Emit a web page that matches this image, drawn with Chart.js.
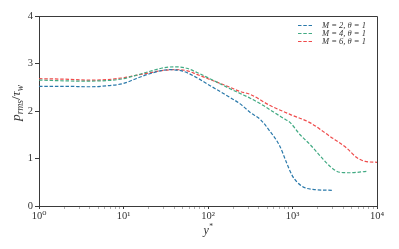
<!DOCTYPE html>
<html>
<head>
<meta charset="utf-8">
<script src="https://cdn.jsdelivr.net/npm/chart.js@4.4.0/dist/chart.umd.min.js"></script>
<style>
html,body{margin:0;padding:0;background:#fff;}
canvas{display:block;}
</style>
</head>
<body>
<canvas id="c" width="399" height="249"></canvas>
<script>
// ---- data ----
const seriesLabels = ["M = 2, \u03b8 = 1", "M = 4, \u03b8 = 1", "M = 6, \u03b8 = 1"];
const seriesColors = ["#2a79aa", "#42aa83", "#ef4a4a"];

const m2X = [1, 2, 4, 6.3, 10, 14, 20, 28, 35, 50, 74, 100, 158, 240, 316, 417, 537, 708, 851, 1000, 1288, 1738, 3020];
const m2Y = [2.52, 2.52, 2.51, 2.53, 2.58, 2.68, 2.78, 2.85, 2.87, 2.84, 2.70, 2.56, 2.35, 2.15, 1.97, 1.82, 1.58, 1.26, 0.91, 0.63, 0.42, 0.35, 0.33];

const m4X = [1, 3, 6.3, 10, 14, 20, 28, 40, 56, 74, 100, 182, 240, 316, 447, 537, 776, 933, 1230, 1622, 2138, 2884, 3631, 4786, 7586];
const m4Y = [2.65, 2.63, 2.64, 2.68, 2.75, 2.83, 2.90, 2.93, 2.90, 2.81, 2.70, 2.47, 2.37, 2.27, 2.12, 2.03, 1.85, 1.76, 1.50, 1.29, 1.05, 0.81, 0.71, 0.70, 0.73];

const m6X = [1, 2, 4, 6.3, 10, 14, 20, 28, 40, 56, 74, 100, 182, 240, 316, 537, 933, 1622, 2754, 4365, 5754, 7244, 10000];
const m6Y = [2.68, 2.67, 2.65, 2.66, 2.70, 2.75, 2.80, 2.85, 2.87, 2.85, 2.77, 2.68, 2.50, 2.41, 2.35, 2.12, 1.93, 1.75, 1.47, 1.22, 1.02, 0.94, 0.92];

const yTicks = [0, 1, 2, 3, 4];
const xDecades = [1, 10, 100, 1000, 10000];
const xTickLabels = ["10\u2070", "10\u00b9", "10\u00b2", "10\u00b3", "10\u2074"];

const seriesX = [m2X, m4X, m6X];
const seriesY = [m2Y, m4Y, m6Y];

const SERIF = '"Liberation Serif", "DejaVu Serif", serif';
const TXT = '#333333';

const datasets = seriesLabels.map((lab, i) => ({
  label: lab,
  data: seriesX[i].map((x, k) => ({x: x, y: seriesY[i][k]})),
  borderColor: seriesColors[i],
  backgroundColor: seriesColors[i],
  borderWidth: 1.2,
  borderDash: [3.5, 1.8],
  pointRadius: 0,
  fill: false,
  cubicInterpolationMode: 'monotone'
}));

const framePlugin = {
  id: 'frame',
  afterDraw(chart) {
    const ctx = chart.ctx, a = chart.chartArea;
    ctx.save();
    ctx.strokeStyle = '#3a3a3a';
    ctx.lineWidth = 1;
    ctx.beginPath();
    ctx.moveTo(Math.round(a.left) + 0.5, Math.round(a.top) + 0.5);
    ctx.lineTo(Math.round(a.right) + 0.5, Math.round(a.top) + 0.5);
    ctx.lineTo(Math.round(a.right) + 0.5, Math.round(a.bottom) + 0.5);
    ctx.stroke();

    // legend (inside, top right)
    const lx = 298, tx = 322;
    chart.data.datasets.forEach((ds, i) => {
      const y = 25.5 + i * 8;
      ctx.strokeStyle = ds.borderColor;
      ctx.lineWidth = 1.2;
      ctx.setLineDash([3.5, 1.8]);
      ctx.beginPath();
      ctx.moveTo(lx, y);
      ctx.lineTo(lx + 14, y);
      ctx.stroke();
      ctx.setLineDash([]);
      ctx.fillStyle = TXT;
      ctx.font = 'italic 8.5px ' + SERIF;
      ctx.textBaseline = 'middle';
      ctx.textAlign = 'left';
      ctx.fillText(ds.label, tx, y);
    });

    // y axis title  p_rms / tau_w
    ctx.save();
    ctx.translate(20, 103);
    ctx.rotate(-Math.PI / 2);
    ctx.fillStyle = TXT;
    ctx.textBaseline = 'alphabetic';
    ctx.textAlign = 'left';
    const big = 'italic 13.5px ' + SERIF, small = 'italic 9.5px ' + SERIF, reg = '13.5px ' + SERIF;
    const parts = [
      ['p', big, 0], ['rms', small, 3], ['/', reg, 0], ['\u03c4', big, 0], ['w', small, 3]
    ];
    let w = 0;
    parts.forEach(p => { ctx.font = p[1]; w += ctx.measureText(p[0]).width; });
    let x0 = -w / 2;
    parts.forEach(p => { ctx.font = p[1]; ctx.fillText(p[0], x0, p[2]); x0 += ctx.measureText(p[0]).width; });
    ctx.restore();

    // x axis title y*
    ctx.save();
    ctx.fillStyle = TXT;
    ctx.textBaseline = 'alphabetic';
    ctx.textAlign = 'left';
    ctx.font = 'italic 12px ' + SERIF;
    const wy = ctx.measureText('y').width;
    ctx.font = '7.5px ' + SERIF;
    const ws = ctx.measureText('*').width;
    const cx = (chart.chartArea.left + chart.chartArea.right) / 2;
    const sx = cx - (wy + ws) / 2;
    ctx.font = 'italic 12px ' + SERIF;
    ctx.fillText('y', sx, 234);
    ctx.font = '7.5px ' + SERIF;
    ctx.fillText('*', sx + wy + 0.5, 229);
    ctx.restore();

    ctx.restore();
  }
};

new Chart(document.getElementById('c'), {
  type: 'line',
  data: { datasets: datasets },
  options: {
    responsive: false,
    animation: false,
    devicePixelRatio: 1,
    layout: { padding: { top: 16, right: 22, left: 0, bottom: 0 } },
    plugins: { legend: { display: false }, tooltip: { enabled: false } },
    scales: {
      x: {
        type: 'logarithmic',
        min: 1, max: 10000,
        afterBuildTicks(scale) {
          const t = [];
          for (let e = 0; e < 4; e++) {
            for (let m = 1; m <= 9; m++) t.push({ value: m * Math.pow(10, e) });
          }
          t.push({ value: 10000 });
          scale.ticks = t;
        },
        afterFit(scale) { scale.height = 43; },
        ticks: {
          autoSkip: false, maxRotation: 0, minRotation: 0,
          color: TXT, padding: 1,
          font: { family: SERIF, size: 10.5 },
          callback(v) {
            const i = xDecades.indexOf(v);
            return i >= 0 ? xTickLabels[i] : '';
          }
        },
        grid: {
          drawOnChartArea: false, drawTicks: true, tickLength: 3,
          tickColor(ctx) {
            const v = ctx.tick ? ctx.tick.value : 0;
            return xDecades.indexOf(v) >= 0 ? '#3a3a3a' : '#777777';
          },
          tickWidth(ctx) {
            const v = ctx.tick ? ctx.tick.value : 0;
            return xDecades.indexOf(v) >= 0 ? 1 : 0.6;
          }
        },
        border: { display: true, color: '#3a3a3a', width: 1 }
      },
      y: {
        type: 'linear',
        min: 0, max: 4,
        afterBuildTicks(scale) { scale.ticks = yTicks.map(v => ({ value: v })); },
        afterFit(scale) { scale.width = 39; },
        ticks: { color: TXT, padding: 2, font: { family: SERIF, size: 10.5 } },
        grid: { drawOnChartArea: false, drawTicks: true, tickLength: 4, tickColor: '#3a3a3a' },
        border: { display: true, color: '#3a3a3a', width: 1 }
      }
    }
  },
  plugins: [framePlugin]
});
</script>
</body>
</html>
